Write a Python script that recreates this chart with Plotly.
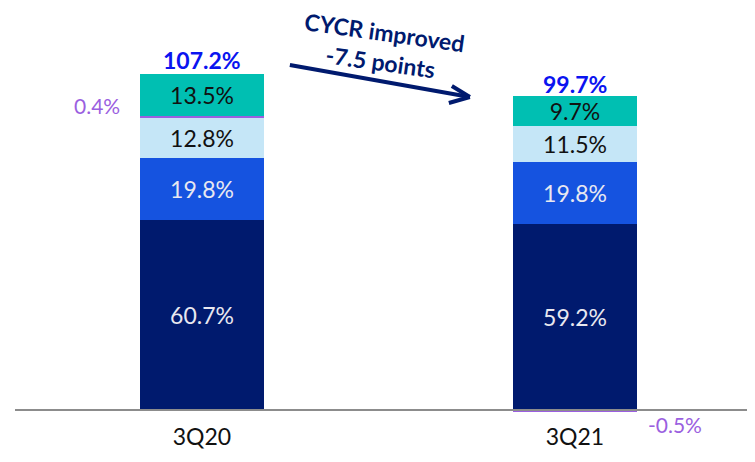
import plotly.graph_objects as go

categories = ["3Q20", "3Q21"]
seg_a = [60.7, 59.2]   # navy
seg_b = [19.8, 19.8]   # blue
seg_c = [12.8, 11.5]   # light blue
seg_d = [0.4, -0.5]    # purple (small)
seg_e = [13.5, 9.7]    # teal
totals = [107.2, 99.7]
note_lines = ["CYCR improved", "-7.5 points"]

NAVY = "#001a6e"
BLUE = "#1553e0"
LIGHT = "#c5e6f7"
PURPLE = "#9b5fe0"
TEAL = "#00bfb2"
FONT = "Lato, sans-serif"

# page is offset by 8px body margin; figure origin at page (8, 8)
OFF = 8
fig = go.Figure()
W = 0.332

def add(vals, color, txtcolor=None):
    fig.add_trace(go.Bar(
        x=categories, y=vals, width=W, marker=dict(color=color, line=dict(width=0)),
        text=[f"{v}%" for v in vals] if txtcolor else None,
        textposition="inside" if txtcolor else "none",
        insidetextanchor="middle", constraintext="none",
        textfont=dict(family=FONT, size=23, color=txtcolor),
        hoverinfo="skip", showlegend=False,
    ))

add(seg_a, NAVY, "#e8e8f0")
add(seg_b, BLUE, "#e8e8f0")
add(seg_c, LIGHT, "#111111")
add(seg_d, PURPLE)
add(seg_e, TEAL, "#111111")

# totals
for i, t in enumerate(totals):
    fig.add_annotation(x=categories[i], y=t, text=f"<b>{t}%</b>", showarrow=False,
                       yanchor="bottom", yshift=-2,
                       font=dict(family=FONT, size=23, color="#0a14f0"))

# small purple labels
fig.add_annotation(x=0, y=seg_a[0] + seg_b[0] + seg_c[0], text=f"{seg_d[0]}%", showarrow=False,
                   xshift=-105, yshift=12, font=dict(family=FONT, size=21, color=PURPLE))
fig.add_annotation(x=1, y=seg_d[1], text=f"{seg_d[1]}%", showarrow=False,
                   xshift=100, yshift=-13, font=dict(family=FONT, size=21, color=PURPLE))

PLOT_TOP = 8      # page y of plot top
PLOT_H = 407      # plot height in px
FIG_H = 462 - OFF
# arrow note
fig.add_annotation(xref="paper", yref="paper", x=(382 - 15) / 740, y=1 - (47 - PLOT_TOP) / PLOT_H,
                   xanchor="center", yanchor="middle",
                   text="<b>" + "<br>".join(note_lines) + "</b>", showarrow=False,
                   textangle=8, font=dict(family=FONT, size=23, color=NAVY))

def px2x(px):
    return (px - 15 - 187) / 373

def py2y(py):
    return (410 - py) / 3.134

arrow = [((290, 65), (470, 97)), ((470, 97), (452, 86)), ((470, 97), (449, 103))]
for (x0, y0), (x1, y1) in arrow:
    fig.add_shape(type="line", x0=px2x(x0), y0=py2y(y0), x1=px2x(x1), y1=py2y(y1),
                  line=dict(color=NAVY, width=4), layer="above")

fig.update_layout(
    barmode="relative",
    width=755 - OFF, height=FIG_H,
    margin=dict(l=15 - OFF, r=0, t=PLOT_TOP - OFF, b=FIG_H - (PLOT_TOP - OFF) - PLOT_H),
    plot_bgcolor="white", paper_bgcolor="white",
    bargap=0,
    xaxis=dict(range=[-0.501, 1.483], showgrid=False, showline=False, ticks="",
               tickfont=dict(family=FONT, size=23, color="#111111"), ticklabelstandoff=6),
    yaxis=dict(range=[-1.6, -1.6 + PLOT_H / 3.134], visible=False, showgrid=False),
)
fig.add_shape(type="line", xref="paper", x0=0, x1=1, y0=0, y1=0,
              line=dict(color="#8c8c8c", width=2), layer="above")

fig.write_html("out.html")
